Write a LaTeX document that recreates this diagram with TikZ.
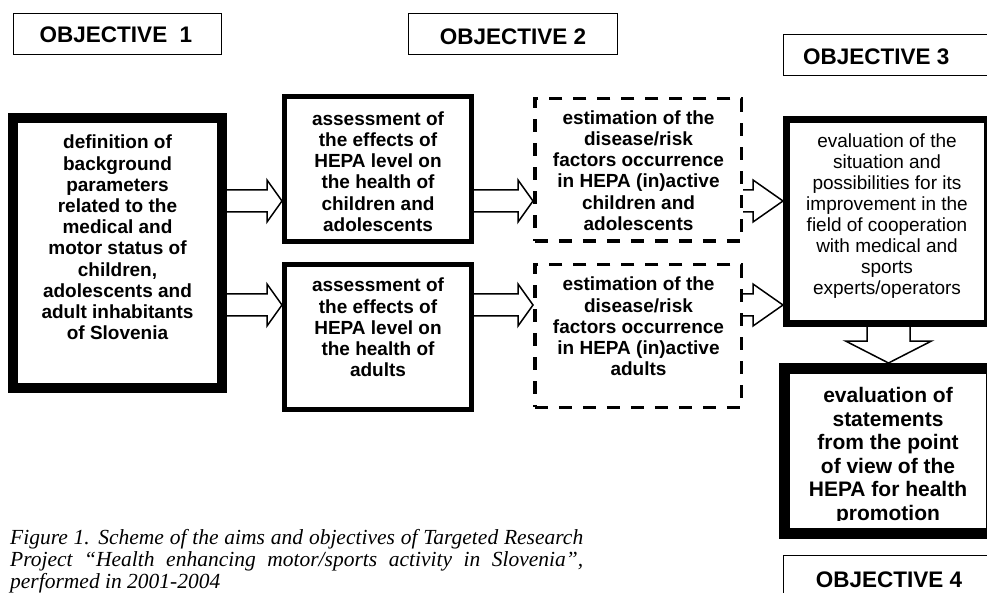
\documentclass[tikz,border=0pt]{standalone}
\usepackage{fontspec}
\setmainfont{Liberation Sans}
\newfontfamily\capfont{Liberation Serif}
\usetikzlibrary{calc}
\tikzset{
  box/.style={draw, inner sep=0pt},
  thinbox/.style={box, line width=1.3pt},
  dbox/.style={box, line width=3.5pt, dash pattern=on 13pt off 11pt},
  objtext/.style={font=\fontsize{22.5}{25}\selectfont\bfseries, inner sep=0pt, anchor=base},
  bodytext/.style={font=\fontsize{19}{21.2}\selectfont\bfseries, align=center, inner sep=0pt},
  plaintext/.style={font=\fontsize{19}{21.1}\selectfont, align=center, inner sep=0pt},
  bigtext/.style={font=\fontsize{21}{23.6}\selectfont\bfseries, align=center, inner sep=0pt},
  captext/.style={font=\capfont\itshape\fontsize{21.5}{22}\selectfont, inner sep=0pt, anchor=base west},
  arrowline/.style={draw, line width=1.5pt, fill=white, line join=miter},
}
% horizontal block arrow: start, target, head length
\newcommand{\harr}[3]{%
  \draw[arrowline] let \p1=(#1), \p2=(#2) in
    (\x1,\y1+11pt) -- (\x2-#3,\y1+11pt) -- (\x2-#3,\y1+21pt) -- (\x2,\y1)
    -- (\x2-#3,\y1-21pt) -- (\x2-#3,\y1-11pt) -- (\x1,\y1-11pt);}
% vertical (downward) block arrow
\newcommand{\varr}[2]{%
  \draw[arrowline] let \p1=(#1), \p2=(#2) in
    (\x1-21.5pt,\y1) -- (\x1-21.5pt,\y2+22pt) -- (\x1-43pt,\y2+22pt) -- (\x1,\y2)
    -- (\x1+43pt,\y2+22pt) -- (\x1+21.5pt,\y2+22pt) -- (\x1+21.5pt,\y1);}
\begin{document}
\begin{tikzpicture}[x=1pt,y=-1pt]
\useasboundingbox (0,0) rectangle (987,593);
\clip (0,0) rectangle (987,593);
\fill[white] (0,0) rectangle (987,593);

% objective labels
\node[thinbox, minimum width=207.7pt, minimum height=40.7pt] (obj1) at (117.5,34) {};
\node[objtext] (obj1t) at (116,43) {OBJECTIVE\ \ 1};
\node[thinbox, minimum width=208.7pt, minimum height=40.7pt] (obj2) at (513,34) {};
\node[objtext] (obj2t) at (513,45) {OBJECTIVE 2};
\node[thinbox, minimum width=240pt, minimum height=40.7pt] (obj3) at (903.65,55) {};
\node[objtext, anchor=base west] (obj3t) at (803,65) {OBJECTIVE 3};
\node[thinbox, minimum width=240pt, minimum height=60pt] (obj4) at (903.65,585.65) {};
\node[objtext] (obj4t) at (889,587) {OBJECTIVE 4};

% main boxes
\node[box, line width=10pt, minimum width=209pt, minimum height=270pt] (big) at (117.5,253) {};
\node[bodytext] (bigt) at (117.5,237.5) {definition of\\background\\parameters\\related to the\\medical and\\motor status of\\children,\\adolescents and\\adult inhabitants\\of Slovenia};

\node[box, line width=5pt, minimum width=187pt, minimum height=145pt] (a1) at (378,169) {};
\node[bodytext] (a1t) at (378,171.5) {assessment of\\the effects of\\HEPA level on\\the health of\\children and\\adolescents};
\node[box, line width=5pt, minimum width=187pt, minimum height=145pt] (a2) at (378,337) {};
\node[bodytext] (a2t) at (378,327.5) {assessment of\\the effects of\\HEPA level on\\the health of\\adults};

\node[dbox, minimum width=206.5pt, minimum height=142.5pt] (e1) at (638,170) {};
\node[bodytext] (e1t) at (638.5,170.5) {estimation of the\\disease/risk\\factors occurrence\\in HEPA (in)active\\children and\\adolescents};
\node[dbox, minimum width=206.5pt, minimum height=142.5pt] (e2) at (638,336) {};
\node[bodytext] (e2t) at (638.5,326.5) {estimation of the\\disease/risk\\factors occurrence\\in HEPA (in)active\\adults};

\node[box, line width=7pt, minimum width=201pt, minimum height=204pt] (o3box) at (887,221.5) {};
\node[plaintext] (o3t) at (887,216) {evaluation of the\\situation and\\possibilities for its\\improvement in the\\field of cooperation\\with medical and\\sports\\experts/operators};

\node[box, line width=11pt, minimum width=207pt, minimum height=165pt] (stmt) at (888,451) {};
\begin{scope}
  \clip (770,360) rectangle (1000,520);
  \node[bigtext] (stmtt) at (888,456) {evaluation of\\statements\\from the point\\of view of the\\HEPA for health\\promotion};
\end{scope}

% block arrows
\harr{big.east |- 0,201}{a1.west |- 0,201}{15pt}
\harr{big.east |- 0,305}{a2.west |- 0,305}{15pt}
\harr{a1.east |- 0,201}{e1.west |- 0,201}{15pt}
\harr{a2.east |- 0,305}{e2.west |- 0,305}{15pt}
\harr{e1.east |- 0,201}{o3box.west |- 0,201}{30pt}
\harr{e2.east |- 0,305}{o3box.west |- 0,305}{30pt}
\varr{888.5,0 |- o3box.south}{888.5,0 |- stmt.north}

% caption
\node[captext] (cap1) at (10,544) {\makebox[573pt][s]{Figure 1. Scheme of the aims and objectives of Targeted Research}};
\node[captext] (cap2) at (10,566) {\makebox[573pt][s]{Project “Health enhancing motor/sports activity in Slovenia”,}};
\node[captext] (cap3) at (10,588) {performed in 2001-2004};
\end{tikzpicture}
\end{document}
